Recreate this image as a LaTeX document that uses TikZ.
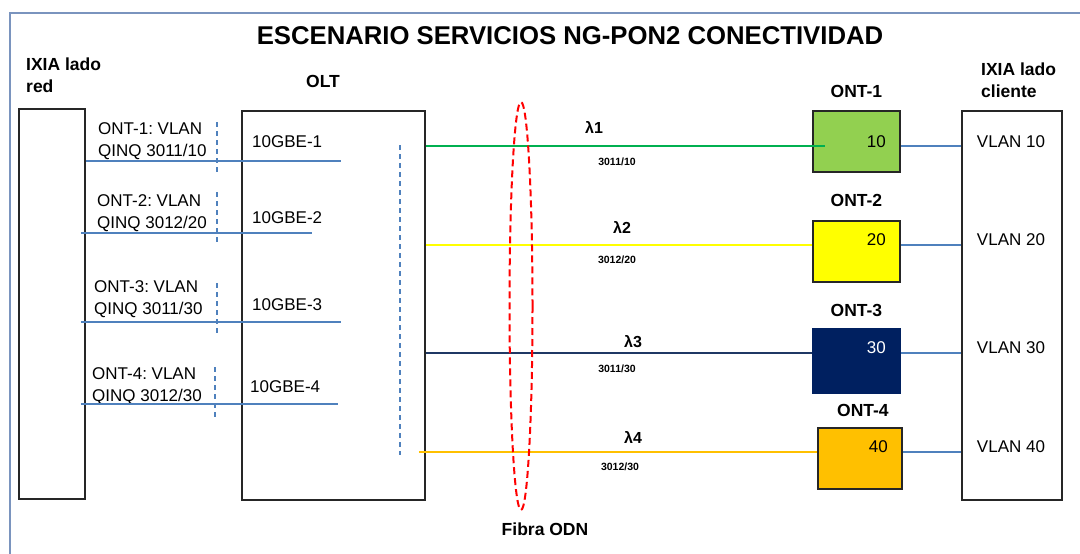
\documentclass[tikz,border=0pt]{standalone}
\usepackage{fontspec}
\setmainfont{Liberation Sans}
\usetikzlibrary{positioning}
\frenchspacing
\definecolor{frameblue}{RGB}{122,148,190}
\definecolor{linkblue}{RGB}{79,129,189}
\definecolor{boxline}{RGB}{38,38,38}
\definecolor{ontgreen}{RGB}{146,208,80}
\definecolor{ontyellow}{RGB}{255,255,0}
\definecolor{ontnavy}{RGB}{0,32,96}
\definecolor{ontorange}{RGB}{255,192,0}
\definecolor{fibgreen}{RGB}{0,176,80}
\definecolor{fibnavy}{RGB}{31,56,100}
\definecolor{odnred}{RGB}{255,0,0}
\tikzset{
  box/.style={draw=boxline, line width=1.8pt, inner sep=0pt, anchor=north west},
  txt/.style={font=\fontsize{17}{22}\selectfont, inner sep=0pt},
  boldtxt/.style={font=\fontsize{17.5}{21.5}\selectfont\bfseries, inner sep=0pt},
  lam/.style={font=\fontsize{16}{16}\selectfont\bfseries, inner sep=0pt, anchor=base},
  qinq/.style={font=\fontsize{10.5}{10.5}\selectfont\bfseries, inner sep=0pt, anchor=base},
  link/.style={draw=linkblue, line width=2.2pt},
  thinlink/.style={draw=linkblue, line width=1.4pt},
  vdash/.style={draw=linkblue, line width=1.2pt, dash pattern=on 5pt off 4pt},
  fibre/.style={line width=1.8pt},
}
\begin{document}
\begin{tikzpicture}[x=1pt,y=-1pt]
    \clip (0,0) rectangle (1080,554);
    % 外框
    \draw[frameblue, line width=2pt] (10,13) rectangle (1100,580);

    % 标题
    \node[font=\fontsize{25.7}{26}\selectfont\bfseries, inner sep=0pt, anchor=base] (title) at (570,45) {ESCENARIO SERVICIOS NG-PON2 CONECTIVIDAD};

    % 设备方框
    \node[box, minimum width=66pt, minimum height=390pt] (ixiared) at (18,108) {};
    \node[box, minimum width=183pt, minimum height=389pt] (olt) at (241,110) {};
    \node[box, fill=ontgreen, minimum width=87pt, minimum height=61pt] (ont1) at (812,110) {};
    \node[box, fill=ontyellow, minimum width=87pt, minimum height=61pt] (ont2) at (812,220) {};
    \node[box, draw=ontnavy, fill=ontnavy, minimum width=87pt, minimum height=64pt] (ont3) at (812,328) {};
    \node[box, fill=ontorange, minimum width=84pt, minimum height=61pt] (ont4) at (817,427) {};
    \node[box, minimum width=100pt, minimum height=389pt] (ixiacli) at (961,110) {};

    % 设备名称
    \node[boldtxt, anchor=north west, align=left] (lblred) at (26,58) {IXIA lado\\red};
    \node[boldtxt, anchor=base] (lblolt) at (323,87) {OLT};
    \node[boldtxt, anchor=north west, align=left] (lblcli) at (981,63) {IXIA lado\\cliente};
    \node[boldtxt, above=12pt of ont1.north] (lblont1) {ONT-1};
    \node[boldtxt, above=13pt of ont2.north] (lblont2) {ONT-2};
    \node[boldtxt, above=11pt of ont3.north] (lblont3) {ONT-3};
    \node[boldtxt, above=10pt of ont4.north, xshift=3pt] (lblont4) {ONT-4};

    % 左侧 VLAN 标注
    \node[txt, anchor=north west, align=left] (vl1) at (98,122) {ONT-1: VLAN\\QINQ 3011/10};
    \node[txt, anchor=north west, align=left] (vl2) at (97,194) {ONT-2: VLAN\\QINQ 3012/20};
    \node[txt, anchor=north west, align=left] (vl3) at (94,280) {ONT-3: VLAN\\QINQ 3011/30};
    \node[txt, anchor=north west, align=left] (vl4) at (92,367) {ONT-4: VLAN\\QINQ 3012/30};
    \draw[vdash] (217,122) -- (217,172);
    \draw[vdash] (217,192) -- (217,242);
    \draw[vdash] (217,283) -- (217,333);
    \draw[vdash] (215,367) -- (215,417);

    % OLT 端口
    \node[txt, anchor=base west] (ge1) at (252,147) {10GBE-1};
    \node[txt, anchor=base west] (ge2) at (252,223) {10GBE-2};
    \node[txt, anchor=base west] (ge3) at (252,310) {10GBE-3};
    \node[txt, anchor=base west] (ge4) at (250,392) {10GBE-4};
    \draw[vdash] (400,145) -- (400,455);

    % 网络侧连线
    \coordinate (a1) at (341,161);
    \coordinate (a2) at (312,233);
    \coordinate (a3) at (341,322);
    \coordinate (a4) at (338,404);
    \draw[link] (ixiared.east |- a1) -- (a1);
    \draw[link] ([xshift=-5pt]ixiared.east |- a2) -- (a2);
    \draw[link] ([xshift=-5pt]ixiared.east |- a3) -- (a3);
    \draw[link] ([xshift=-5pt]ixiared.east |- a4) -- (a4);

    % 光纤波长
    \coordinate (f1) at (825,146);
    \coordinate (f2) at (ont2.west |- 0,245);
    \coordinate (f3) at (ont3.west |- 0,353);
    \coordinate (f4) at (ont4.west |- 0,452);
    \draw[fibre, fibgreen] (olt.east |- f1) -- (f1);
    \draw[fibre, ontyellow] (olt.east |- f2) -- (f2);
    \draw[fibre, fibnavy] (olt.east |- f3) -- (f3);
    \draw[fibre, ontorange] ([xshift=-7pt]olt.east |- f4) -- (f4);
    \node[lam] (lam1) at (594,133) {λ1};
    \node[lam] (lam2) at (622,233) {λ2};
    \node[lam] (lam3) at (633,347) {λ3};
    \node[lam] (lam4) at (633,443) {λ4};
    \node[qinq] (q1) at (617,165) {3011/10};
    \node[qinq] (q2) at (617,263) {3012/20};
    \node[qinq] (q3) at (617,372) {3011/30};
    \node[qinq] (q4) at (620,470) {3012/30};

    % ODN 光纤
    \draw[odnred, line width=2pt, dash pattern=on 7pt off 4pt] (521,306) ellipse [x radius=11.5, y radius=204];
    \node[boldtxt, anchor=base] (odn) at (545,535) {Fibra ODN};

    % ONT 编号
    \node[txt, anchor=base east] (n1) at (886,147) {10};
    \node[txt, anchor=base east] (n2) at (886,245) {20};
    \node[txt, anchor=base east, text=white] (n3) at (886,353) {30};
    \node[txt, anchor=base east] (n4) at (888,452) {40};

    % 用户侧连线
    \draw[thinlink] (ont1.east |- f1) -- (ixiacli.west |- f1);
    \draw[thinlink] (ont2.east |- f2) -- (ixiacli.west |- f2);
    \draw[thinlink] (ont3.east |- f3) -- (ixiacli.west |- f3);
    \draw[thinlink] (ont4.east |- f4) -- (ixiacli.west |- f4);
    \node[txt, anchor=base] (vc1) at (1011,147) {VLAN 10};
    \node[txt, anchor=base] (vc2) at (1011,245) {VLAN 20};
    \node[txt, anchor=base] (vc3) at (1011,353) {VLAN 30};
    \node[txt, anchor=base] (vc4) at (1011,452) {VLAN 40};
\end{tikzpicture}
\end{document}
